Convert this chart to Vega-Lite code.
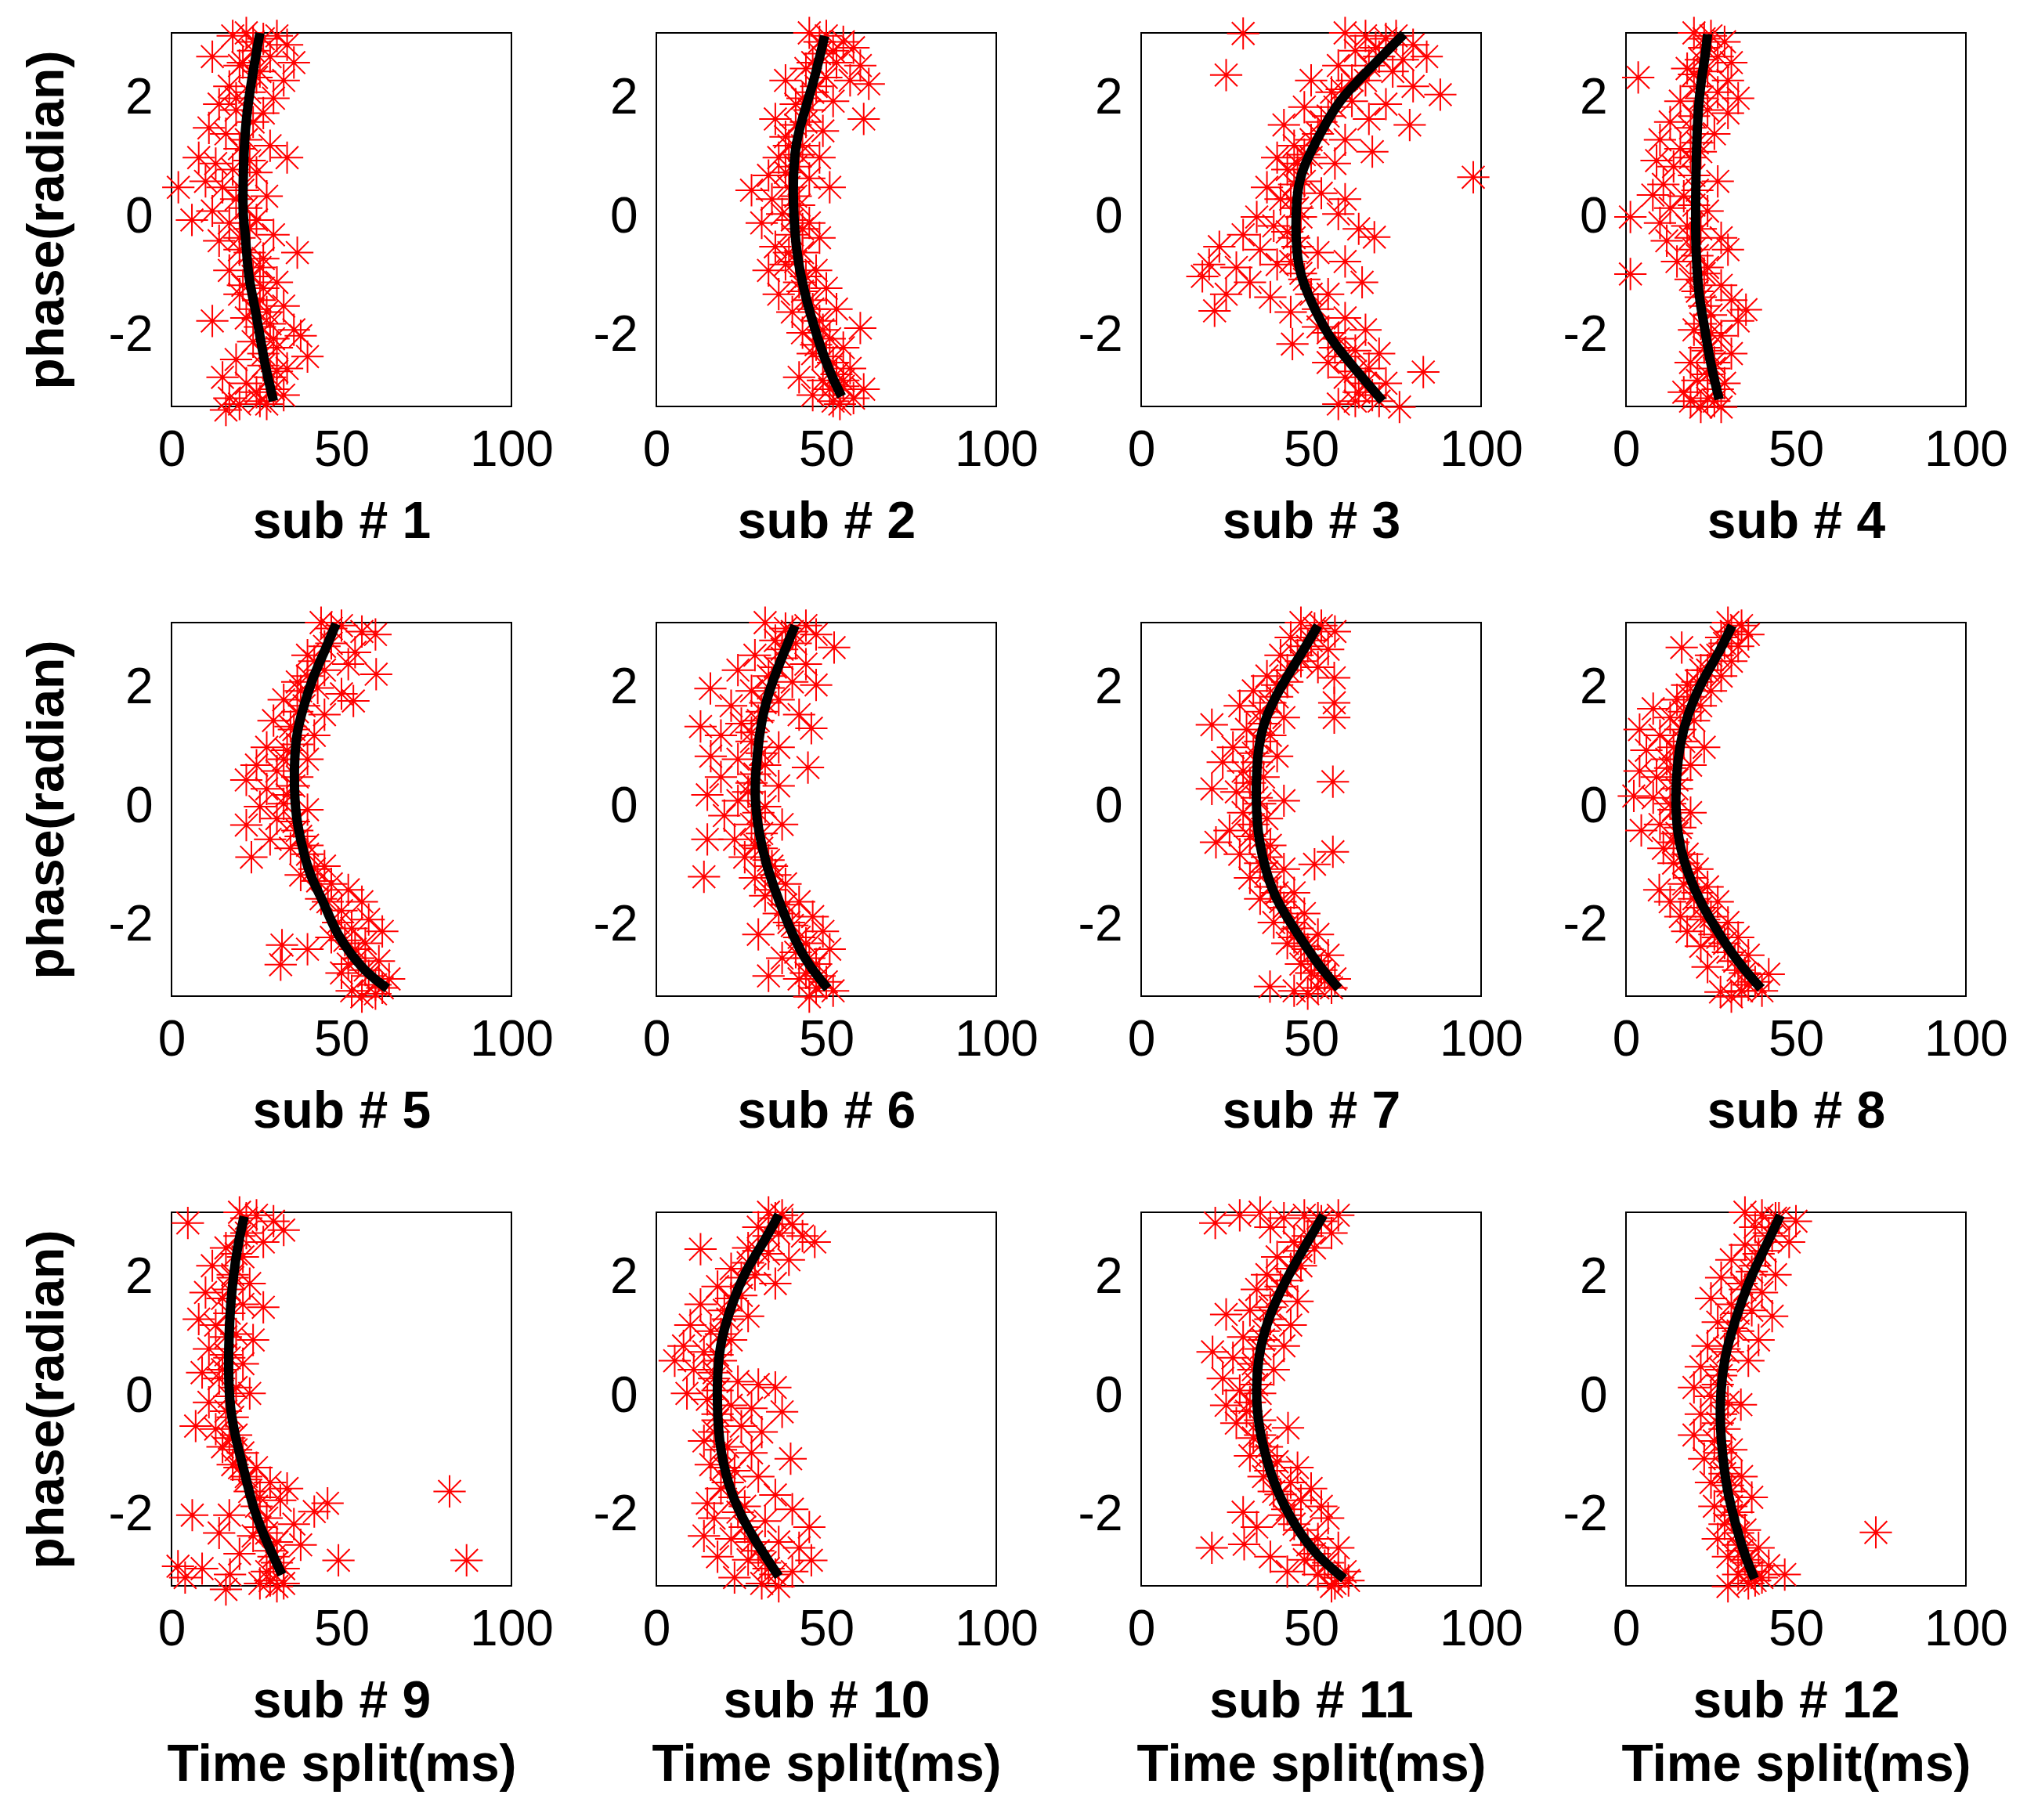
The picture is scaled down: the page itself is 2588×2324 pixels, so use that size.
{
  "$schema": "https://vega.github.io/schema/vega-lite/v6.json",
  "background": "white",
  "padding": {"left": 26, "top": 16, "right": 5, "bottom": 5},
  "bounds": "flush",
  "spacing": 753,
  "config": {
    "font": "Liberation Sans",
    "view": {"stroke": "#000000", "strokeWidth": 2},
    "axis": {
      "grid": false, "domain": false, "ticks": false, "labelFlush": false, "labelExpr": "'' + datum.value",
      "labelFont": "Liberation Sans", "labelFontSize": 64, "labelColor": "#000000", "labelPadding": 24,
      "titleFont": "Liberation Sans", "titleFontSize": 66, "titleFontWeight": "bold", "titleColor": "#000000"
    },
    "axisX": {"titlePadding": 27, "titleLineHeight": 81},
    "axisY": {"titlePadding": 44}
  },
  "datasets": {
    "pts": [
      {"s":1,"t":18,"p":3.05},{"s":1,"t":22,"p":3.1},{"s":1,"t":27,"p":3.0},{"s":1,"t":31,"p":3.05},{"s":1,"t":34,"p":2.9},{"s":1,"t":24,"p":2.8},{"s":1,"t":29,"p":2.7},{"s":1,"t":36,"p":2.6},{"s":1,"t":12,"p":2.7},{"s":1,"t":20,"p":2.55},{"s":1,"t":26,"p":2.45},{"s":1,"t":33,"p":2.3},{"s":1,"t":17,"p":2.2},{"s":1,"t":23,"p":2.1},{"s":1,"t":30,"p":2.0},{"s":1,"t":14,"p":1.9},{"s":1,"t":19,"p":1.8},{"s":1,"t":27,"p":1.75},{"s":1,"t":11,"p":1.5},{"s":1,"t":16,"p":1.4},{"s":1,"t":22,"p":1.3},{"s":1,"t":29,"p":1.2},{"s":1,"t":34,"p":1.0},{"s":1,"t":8,"p":1.0},{"s":1,"t":13,"p":0.9},{"s":1,"t":18,"p":0.8},{"s":1,"t":25,"p":0.75},{"s":1,"t":10,"p":0.6},{"s":1,"t":15,"p":0.5},{"s":1,"t":21,"p":0.45},{"s":1,"t":28,"p":0.35},{"s":1,"t":2,"p":0.5},{"s":1,"t":6,"p":-0.05},{"s":1,"t":12,"p":0.1},{"s":1,"t":17,"p":-0.1},{"s":1,"t":23,"p":-0.2},{"s":1,"t":30,"p":-0.3},{"s":1,"t":14,"p":-0.4},{"s":1,"t":20,"p":-0.55},{"s":1,"t":27,"p":-0.7},{"s":1,"t":37,"p":-0.6},{"s":1,"t":17,"p":-0.9},{"s":1,"t":24,"p":-1.0},{"s":1,"t":31,"p":-1.1},{"s":1,"t":20,"p":-1.3},{"s":1,"t":26,"p":-1.4},{"s":1,"t":33,"p":-1.5},{"s":1,"t":12,"p":-1.75},{"s":1,"t":22,"p":-1.7},{"s":1,"t":29,"p":-1.8},{"s":1,"t":36,"p":-1.9},{"s":1,"t":24,"p":-2.1},{"s":1,"t":31,"p":-2.2},{"s":1,"t":38,"p":-2.0},{"s":1,"t":40,"p":-2.35},{"s":1,"t":19,"p":-2.4},{"s":1,"t":27,"p":-2.5},{"s":1,"t":34,"p":-2.55},{"s":1,"t":15,"p":-2.7},{"s":1,"t":22,"p":-2.8},{"s":1,"t":30,"p":-2.9},{"s":1,"t":17,"p":-3.05},{"s":1,"t":26,"p":-3.1},{"s":1,"t":33,"p":-3.0},{"s":1,"t":16,"p":-3.25},
      {"s":2,"t":45,"p":3.1},{"s":2,"t":50,"p":3.05},{"s":2,"t":55,"p":2.95},{"s":2,"t":58,"p":2.85},{"s":2,"t":48,"p":2.75},{"s":2,"t":53,"p":2.6},{"s":2,"t":60,"p":2.55},{"s":2,"t":44,"p":2.5},{"s":2,"t":50,"p":2.35},{"s":2,"t":38,"p":2.3},{"s":2,"t":57,"p":2.3},{"s":2,"t":62.5,"p":2.24},{"s":2,"t":46,"p":2.1},{"s":2,"t":52,"p":1.95},{"s":2,"t":41,"p":1.9},{"s":2,"t":61,"p":1.65},{"s":2,"t":35,"p":1.65},{"s":2,"t":44,"p":1.6},{"s":2,"t":49,"p":1.45},{"s":2,"t":38,"p":1.35},{"s":2,"t":43,"p":1.2},{"s":2,"t":48,"p":1.0},{"s":2,"t":36,"p":1.0},{"s":2,"t":41,"p":0.85},{"s":2,"t":33,"p":0.7},{"s":2,"t":45,"p":0.65},{"s":2,"t":39,"p":0.5},{"s":2,"t":28,"p":0.45},{"s":2,"t":51,"p":0.5},{"s":2,"t":34,"p":0.3},{"s":2,"t":42,"p":0.2},{"s":2,"t":37,"p":0.05},{"s":2,"t":45,"p":-0.1},{"s":2,"t":31,"p":-0.1},{"s":2,"t":40,"p":-0.3},{"s":2,"t":48,"p":-0.35},{"s":2,"t":35,"p":-0.5},{"s":2,"t":43,"p":-0.6},{"s":2,"t":38,"p":-0.8},{"s":2,"t":47,"p":-0.9},{"s":2,"t":33,"p":-0.9},{"s":2,"t":42,"p":-1.1},{"s":2,"t":50,"p":-1.2},{"s":2,"t":36,"p":-1.3},{"s":2,"t":45,"p":-1.4},{"s":2,"t":53,"p":-1.55},{"s":2,"t":40,"p":-1.6},{"s":2,"t":48,"p":-1.75},{"s":2,"t":60,"p":-1.87},{"s":2,"t":43,"p":-1.95},{"s":2,"t":51,"p":-2.05},{"s":2,"t":55,"p":-2.2},{"s":2,"t":46,"p":-2.3},{"s":2,"t":52,"p":-2.45},{"s":2,"t":57,"p":-2.55},{"s":2,"t":42,"p":-2.7},{"s":2,"t":49,"p":-2.75},{"s":2,"t":55,"p":-2.85},{"s":2,"t":61,"p":-2.9},{"s":2,"t":46,"p":-3.0},{"s":2,"t":52,"p":-3.1},{"s":2,"t":58,"p":-3.05},
      {"s":3,"t":60,"p":3.1},{"s":3,"t":66,"p":3.05},{"s":3,"t":72,"p":3.0},{"s":3,"t":80,"p":2.9},{"s":3,"t":30,"p":3.09},{"s":3,"t":63,"p":2.8},{"s":3,"t":70,"p":2.7},{"s":3,"t":77,"p":2.65},{"s":3,"t":84,"p":2.7},{"s":3,"t":58,"p":2.55},{"s":3,"t":74,"p":2.45},{"s":3,"t":25,"p":2.39},{"s":3,"t":50,"p":2.3},{"s":3,"t":66,"p":2.3},{"s":3,"t":80,"p":2.2},{"s":3,"t":56,"p":2.1},{"s":3,"t":88,"p":2.06},{"s":3,"t":62,"p":1.95},{"s":3,"t":72,"p":1.9},{"s":3,"t":48,"p":1.85},{"s":3,"t":55,"p":1.7},{"s":3,"t":67,"p":1.65},{"s":3,"t":79,"p":1.55},{"s":3,"t":42,"p":1.55},{"s":3,"t":52,"p":1.4},{"s":3,"t":60,"p":1.3},{"s":3,"t":45,"p":1.2},{"s":3,"t":68,"p":1.1},{"s":3,"t":50,"p":1.0},{"s":3,"t":40,"p":1.0},{"s":3,"t":57,"p":0.9},{"s":3,"t":43,"p":0.8},{"s":3,"t":97.7,"p":0.67},{"s":3,"t":48,"p":0.6},{"s":3,"t":37,"p":0.5},{"s":3,"t":53,"p":0.4},{"s":3,"t":41,"p":0.3},{"s":3,"t":60,"p":0.3},{"s":3,"t":46,"p":0.15},{"s":3,"t":34,"p":0.0},{"s":3,"t":58,"p":0.05},{"s":3,"t":39,"p":-0.15},{"s":3,"t":64,"p":-0.2},{"s":3,"t":30,"p":-0.3},{"s":3,"t":45,"p":-0.35},{"s":3,"t":68.6,"p":-0.34},{"s":3,"t":23,"p":-0.5},{"s":3,"t":35,"p":-0.55},{"s":3,"t":52,"p":-0.6},{"s":3,"t":20,"p":-0.8},{"s":3,"t":28,"p":-0.85},{"s":3,"t":40,"p":-0.8},{"s":3,"t":60,"p":-0.75},{"s":3,"t":18,"p":-1.0},{"s":3,"t":32,"p":-1.1},{"s":3,"t":48,"p":-1.05},{"s":3,"t":65,"p":-1.1},{"s":3,"t":25,"p":-1.3},{"s":3,"t":38,"p":-1.35},{"s":3,"t":55,"p":-1.3},{"s":3,"t":21.6,"p":-1.58},{"s":3,"t":44,"p":-1.6},{"s":3,"t":60,"p":-1.7},{"s":3,"t":52,"p":-1.85},{"s":3,"t":66,"p":-1.9},{"s":3,"t":58,"p":-2.05},{"s":3,"t":44.5,"p":-2.14},{"s":3,"t":63,"p":-2.25},{"s":3,"t":70,"p":-2.3},{"s":3,"t":55,"p":-2.45},{"s":3,"t":67,"p":-2.55},{"s":3,"t":83,"p":-2.61},{"s":3,"t":60,"p":-2.7},{"s":3,"t":72,"p":-2.8},{"s":3,"t":64,"p":-2.95},{"s":3,"t":70,"p":-3.1},{"s":3,"t":76,"p":-3.2},{"s":3,"t":58,"p":-3.15},
      {"s":4,"t":20,"p":3.1},{"s":4,"t":25,"p":3.05},{"s":4,"t":29,"p":2.95},{"s":4,"t":23,"p":2.85},{"s":4,"t":27,"p":2.7},{"s":4,"t":31,"p":2.6},{"s":4,"t":18,"p":2.5},{"s":4,"t":24,"p":2.45},{"s":4,"t":30,"p":2.3},{"s":4,"t":3.6,"p":2.35},{"s":4,"t":21,"p":2.2},{"s":4,"t":27,"p":2.1},{"s":4,"t":33,"p":2.0},{"s":4,"t":16,"p":1.95},{"s":4,"t":24,"p":1.8},{"s":4,"t":30,"p":1.75},{"s":4,"t":13,"p":1.6},{"s":4,"t":19,"p":1.5},{"s":4,"t":26,"p":1.4},{"s":4,"t":10,"p":1.3},{"s":4,"t":16,"p":1.15},{"s":4,"t":22,"p":1.1},{"s":4,"t":9,"p":0.95},{"s":4,"t":14,"p":0.85},{"s":4,"t":20,"p":0.7},{"s":4,"t":27,"p":0.6},{"s":4,"t":11,"p":0.55},{"s":4,"t":7.9,"p":0.37},{"s":4,"t":17,"p":0.35},{"s":4,"t":13,"p":0.15},{"s":4,"t":24,"p":0.1},{"s":4,"t":1.3,"p":0.0},{"s":4,"t":10,"p":-0.1},{"s":4,"t":18,"p":-0.15},{"s":4,"t":28,"p":-0.35},{"s":4,"t":12,"p":-0.4},{"s":4,"t":20,"p":-0.55},{"s":4,"t":30,"p":-0.55},{"s":4,"t":15,"p":-0.75},{"s":4,"t":24,"p":-0.85},{"s":4,"t":1.3,"p":-0.96},{"s":4,"t":19,"p":-1.05},{"s":4,"t":28,"p":-1.15},{"s":4,"t":22,"p":-1.35},{"s":4,"t":31,"p":-1.4},{"s":4,"t":35.3,"p":-1.56},{"s":4,"t":25,"p":-1.65},{"s":4,"t":33,"p":-1.75},{"s":4,"t":20,"p":-1.9},{"s":4,"t":28,"p":-2.0},{"s":4,"t":23,"p":-2.2},{"s":4,"t":31,"p":-2.3},{"s":4,"t":19,"p":-2.45},{"s":4,"t":26,"p":-2.55},{"s":4,"t":21,"p":-2.75},{"s":4,"t":29,"p":-2.8},{"s":4,"t":17,"p":-2.95},{"s":4,"t":24,"p":-3.05},{"s":4,"t":22,"p":-3.2},{"s":4,"t":28,"p":-3.2},
      {"s":5,"t":44,"p":3.1},{"s":5,"t":50,"p":3.05},{"s":5,"t":56,"p":2.95},{"s":5,"t":60,"p":2.9},{"s":5,"t":47,"p":2.75},{"s":5,"t":54,"p":2.6},{"s":5,"t":40,"p":2.55},{"s":5,"t":52,"p":2.4},{"s":5,"t":45,"p":2.3},{"s":5,"t":60.2,"p":2.23},{"s":5,"t":37,"p":2.1},{"s":5,"t":43,"p":2.0},{"s":5,"t":50,"p":1.9},{"s":5,"t":53.5,"p":1.78},{"s":5,"t":33,"p":1.8},{"s":5,"t":39,"p":1.7},{"s":5,"t":45,"p":1.55},{"s":5,"t":30,"p":1.45},{"s":5,"t":36,"p":1.3},{"s":5,"t":42,"p":1.2},{"s":5,"t":28,"p":1.0},{"s":5,"t":34,"p":0.95},{"s":5,"t":40,"p":0.8},{"s":5,"t":25,"p":0.7},{"s":5,"t":31,"p":0.6},{"s":5,"t":37,"p":0.5},{"s":5,"t":22,"p":0.45},{"s":5,"t":28,"p":0.3},{"s":5,"t":34,"p":0.2},{"s":5,"t":40,"p":-0.05},{"s":5,"t":26,"p":0.0},{"s":5,"t":31,"p":-0.2},{"s":5,"t":22,"p":-0.31},{"s":5,"t":37,"p":-0.4},{"s":5,"t":29,"p":-0.55},{"s":5,"t":35,"p":-0.7},{"s":5,"t":23.5,"p":-0.85},{"s":5,"t":40,"p":-0.8},{"s":5,"t":45,"p":-1.0},{"s":5,"t":38,"p":-1.15},{"s":5,"t":47,"p":-1.3},{"s":5,"t":52,"p":-1.4},{"s":5,"t":44,"p":-1.55},{"s":5,"t":56,"p":-1.6},{"s":5,"t":50,"p":-1.75},{"s":5,"t":58,"p":-1.9},{"s":5,"t":53,"p":-2.05},{"s":5,"t":62,"p":-2.1},{"s":5,"t":47,"p":-2.2},{"s":5,"t":57,"p":-2.3},{"s":5,"t":32.5,"p":-2.33},{"s":5,"t":40,"p":-2.4},{"s":5,"t":55,"p":-2.55},{"s":5,"t":61,"p":-2.6},{"s":5,"t":32.1,"p":-2.66},{"s":5,"t":50,"p":-2.8},{"s":5,"t":58,"p":-2.85},{"s":5,"t":64,"p":-2.9},{"s":5,"t":53,"p":-3.1},{"s":5,"t":60,"p":-3.15},
      {"s":6,"t":32,"p":3.1},{"s":6,"t":38,"p":3.0},{"s":6,"t":44,"p":3.05},{"s":6,"t":47,"p":2.9},{"s":6,"t":35,"p":2.8},{"s":6,"t":41,"p":2.75},{"s":6,"t":52.3,"p":2.68},{"s":6,"t":29,"p":2.55},{"s":6,"t":37,"p":2.5},{"s":6,"t":44,"p":2.4},{"s":6,"t":24,"p":2.3},{"s":6,"t":33,"p":2.2},{"s":6,"t":40,"p":2.1},{"s":6,"t":47,"p":2.05},{"s":6,"t":15.9,"p":1.99},{"s":6,"t":28,"p":1.95},{"s":6,"t":36,"p":1.8},{"s":6,"t":22,"p":1.7},{"s":6,"t":31,"p":1.6},{"s":6,"t":42,"p":1.55},{"s":6,"t":13,"p":1.35},{"s":6,"t":25,"p":1.4},{"s":6,"t":45.6,"p":1.32},{"s":6,"t":19,"p":1.2},{"s":6,"t":28,"p":1.1},{"s":6,"t":36,"p":1.0},{"s":6,"t":16,"p":0.85},{"s":6,"t":24,"p":0.8},{"s":6,"t":32,"p":0.7},{"s":6,"t":44.6,"p":0.66},{"s":6,"t":19,"p":0.5},{"s":6,"t":28,"p":0.4},{"s":6,"t":36,"p":0.35},{"s":6,"t":15,"p":0.2},{"s":6,"t":24,"p":0.1},{"s":6,"t":32,"p":0.0},{"s":6,"t":20,"p":-0.15},{"s":6,"t":28,"p":-0.3},{"s":6,"t":37,"p":-0.3},{"s":6,"t":23,"p":-0.55},{"s":6,"t":15,"p":-0.55},{"s":6,"t":31,"p":-0.7},{"s":6,"t":26,"p":-0.85},{"s":6,"t":34,"p":-1.0},{"s":6,"t":14,"p":-1.18},{"s":6,"t":29,"p":-1.2},{"s":6,"t":38,"p":-1.3},{"s":6,"t":32,"p":-1.5},{"s":6,"t":42,"p":-1.6},{"s":6,"t":36,"p":-1.8},{"s":6,"t":46,"p":-1.85},{"s":6,"t":40,"p":-2.0},{"s":6,"t":49,"p":-2.1},{"s":6,"t":30,"p":-2.15},{"s":6,"t":44,"p":-2.3},{"s":6,"t":51,"p":-2.4},{"s":6,"t":37,"p":-2.55},{"s":6,"t":47,"p":-2.65},{"s":6,"t":33,"p":-2.85},{"s":6,"t":42,"p":-2.9},{"s":6,"t":50,"p":-2.95},{"s":6,"t":45,"p":-3.2},
      {"s":7,"t":47,"p":3.1},{"s":7,"t":53,"p":3.05},{"s":7,"t":57,"p":2.95},{"s":7,"t":44,"p":2.85},{"s":7,"t":50,"p":2.8},{"s":7,"t":55,"p":2.65},{"s":7,"t":41,"p":2.55},{"s":7,"t":47,"p":2.45},{"s":7,"t":52,"p":2.35},{"s":7,"t":56.8,"p":2.17},{"s":7,"t":37,"p":2.2},{"s":7,"t":43,"p":2.1},{"s":7,"t":33,"p":1.95},{"s":7,"t":40,"p":1.85},{"s":7,"t":56.8,"p":1.75},{"s":7,"t":29,"p":1.7},{"s":7,"t":35,"p":1.6},{"s":7,"t":42,"p":1.5},{"s":7,"t":56.8,"p":1.5},{"s":7,"t":20.8,"p":1.38},{"s":7,"t":31,"p":1.3},{"s":7,"t":38,"p":1.2},{"s":7,"t":27,"p":1.0},{"s":7,"t":33,"p":0.9},{"s":7,"t":40,"p":0.85},{"s":7,"t":24,"p":0.75},{"s":7,"t":30,"p":0.6},{"s":7,"t":36,"p":0.5},{"s":7,"t":56.4,"p":0.42},{"s":7,"t":20.8,"p":0.3},{"s":7,"t":28,"p":0.25},{"s":7,"t":34,"p":0.15},{"s":7,"t":42,"p":0.1},{"s":7,"t":30,"p":-0.1},{"s":7,"t":37,"p":-0.2},{"s":7,"t":26,"p":-0.4},{"s":7,"t":32,"p":-0.5},{"s":7,"t":22,"p":-0.6},{"s":7,"t":38,"p":-0.65},{"s":7,"t":56.4,"p":-0.76},{"s":7,"t":29,"p":-0.8},{"s":7,"t":35,"p":-0.95},{"s":7,"t":51,"p":-0.97},{"s":7,"t":42,"p":-1.05},{"s":7,"t":32,"p":-1.2},{"s":7,"t":38,"p":-1.35},{"s":7,"t":45,"p":-1.45},{"s":7,"t":35,"p":-1.55},{"s":7,"t":42,"p":-1.7},{"s":7,"t":48,"p":-1.8},{"s":7,"t":39,"p":-1.95},{"s":7,"t":46,"p":-2.05},{"s":7,"t":52,"p":-2.15},{"s":7,"t":43,"p":-2.3},{"s":7,"t":49,"p":-2.4},{"s":7,"t":55,"p":-2.5},{"s":7,"t":47,"p":-2.65},{"s":7,"t":53,"p":-2.75},{"s":7,"t":57,"p":-2.9},{"s":7,"t":37.9,"p":-3.03},{"s":7,"t":45,"p":-3.1},{"s":7,"t":52,"p":-3.05},
      {"s":8,"t":30,"p":3.1},{"s":8,"t":34,"p":3.05},{"s":8,"t":36,"p":2.9},{"s":8,"t":28,"p":2.85},{"s":8,"t":33,"p":2.7},{"s":8,"t":16.4,"p":2.68},{"s":8,"t":25,"p":2.55},{"s":8,"t":31,"p":2.45},{"s":8,"t":22,"p":2.3},{"s":8,"t":28,"p":2.2},{"s":8,"t":18,"p":2.05},{"s":8,"t":25,"p":1.95},{"s":8,"t":15,"p":1.8},{"s":8,"t":22,"p":1.7},{"s":8,"t":8,"p":1.65},{"s":8,"t":13,"p":1.5},{"s":8,"t":20,"p":1.45},{"s":8,"t":4,"p":1.3},{"s":8,"t":10,"p":1.2},{"s":8,"t":17,"p":1.1},{"s":8,"t":23,"p":1.0},{"s":8,"t":6,"p":0.95},{"s":8,"t":12,"p":0.8},{"s":8,"t":19,"p":0.7},{"s":8,"t":4,"p":0.6},{"s":8,"t":9,"p":0.5},{"s":8,"t":15,"p":0.45},{"s":8,"t":2.3,"p":0.18},{"s":8,"t":8,"p":0.15},{"s":8,"t":13,"p":0.05},{"s":8,"t":19,"p":-0.1},{"s":8,"t":4.5,"p":-0.4},{"s":8,"t":10,"p":-0.3},{"s":8,"t":15,"p":-0.45},{"s":8,"t":11,"p":-0.7},{"s":8,"t":18,"p":-0.8},{"s":8,"t":14,"p":-0.95},{"s":8,"t":21,"p":-1.05},{"s":8,"t":9.8,"p":-1.4},{"s":8,"t":17,"p":-1.3},{"s":8,"t":24,"p":-1.35},{"s":8,"t":13,"p":-1.6},{"s":8,"t":20,"p":-1.55},{"s":8,"t":27,"p":-1.6},{"s":8,"t":16,"p":-1.85},{"s":8,"t":23,"p":-1.9},{"s":8,"t":30,"p":-1.95},{"s":8,"t":18,"p":-2.1},{"s":8,"t":26,"p":-2.15},{"s":8,"t":33,"p":-2.2},{"s":8,"t":22,"p":-2.35},{"s":8,"t":30,"p":-2.45},{"s":8,"t":36,"p":-2.5},{"s":8,"t":24,"p":-2.7},{"s":8,"t":33,"p":-2.75},{"s":8,"t":42,"p":-2.82},{"s":8,"t":27.8,"p":-3.12},{"s":8,"t":36,"p":-3.0},{"s":8,"t":40,"p":-3.1},{"s":8,"t":31,"p":-3.2},
      {"s":9,"t":4.8,"p":2.92},{"s":9,"t":20,"p":3.1},{"s":9,"t":25,"p":3.05},{"s":9,"t":30,"p":2.95},{"s":9,"t":33,"p":2.8},{"s":9,"t":22,"p":2.75},{"s":9,"t":27,"p":2.6},{"s":9,"t":16,"p":2.5},{"s":9,"t":21,"p":2.35},{"s":9,"t":12,"p":2.2},{"s":9,"t":18,"p":2.05},{"s":9,"t":23,"p":1.9},{"s":9,"t":10,"p":1.75},{"s":9,"t":15,"p":1.65},{"s":9,"t":21,"p":1.55},{"s":9,"t":27,"p":1.5},{"s":9,"t":8,"p":1.3},{"s":9,"t":13,"p":1.2},{"s":9,"t":19,"p":1.05},{"s":9,"t":24,"p":0.95},{"s":9,"t":11,"p":0.8},{"s":9,"t":16,"p":0.7},{"s":9,"t":21,"p":0.55},{"s":9,"t":9,"p":0.4},{"s":9,"t":14,"p":0.3},{"s":9,"t":19,"p":0.15},{"s":9,"t":23,"p":0.05},{"s":9,"t":11,"p":-0.1},{"s":9,"t":16,"p":-0.25},{"s":9,"t":7.1,"p":-0.5},{"s":9,"t":13,"p":-0.55},{"s":9,"t":19,"p":-0.65},{"s":9,"t":15,"p":-0.85},{"s":9,"t":21,"p":-0.95},{"s":9,"t":18,"p":-1.15},{"s":9,"t":25,"p":-1.2},{"s":9,"t":22,"p":-1.4},{"s":9,"t":29,"p":-1.45},{"s":9,"t":34,"p":-1.55},{"s":9,"t":26,"p":-1.7},{"s":9,"t":32,"p":-1.75},{"s":9,"t":45.9,"p":-1.8},{"s":9,"t":42,"p":-1.94},{"s":9,"t":81.8,"p":-1.6},{"s":9,"t":6.1,"p":-2.0},{"s":9,"t":17,"p":-2.0},{"s":9,"t":28,"p":-2.05},{"s":9,"t":36,"p":-2.15},{"s":9,"t":14,"p":-2.3},{"s":9,"t":24,"p":-2.35},{"s":9,"t":31,"p":-2.45},{"s":9,"t":38,"p":-2.5},{"s":9,"t":20,"p":-2.65},{"s":9,"t":30,"p":-2.7},{"s":9,"t":49.1,"p":-2.76},{"s":9,"t":86.8,"p":-2.76},{"s":9,"t":1.9,"p":-2.86},{"s":9,"t":9,"p":-2.9},{"s":9,"t":28,"p":-2.95},{"s":9,"t":17.2,"p":-3.0},{"s":9,"t":4,"p":-3.05},{"s":9,"t":26,"p":-3.15},{"s":9,"t":31,"p":-3.2},{"s":9,"t":16,"p":-3.25},
      {"s":10,"t":33,"p":3.1},{"s":10,"t":37,"p":3.05},{"s":10,"t":40,"p":2.9},{"s":10,"t":30,"p":2.85},{"s":10,"t":36,"p":2.75},{"s":10,"t":43,"p":2.7},{"s":10,"t":46.6,"p":2.6},{"s":10,"t":13,"p":2.48},{"s":10,"t":27,"p":2.5},{"s":10,"t":33,"p":2.4},{"s":10,"t":39,"p":2.3},{"s":10,"t":22,"p":2.15},{"s":10,"t":29,"p":2.05},{"s":10,"t":35,"p":1.9},{"s":10,"t":18,"p":1.85},{"s":10,"t":25,"p":1.7},{"s":10,"t":13,"p":1.55},{"s":10,"t":20,"p":1.45},{"s":10,"t":27,"p":1.35},{"s":10,"t":10,"p":1.2},{"s":10,"t":16,"p":1.1},{"s":10,"t":22,"p":0.95},{"s":10,"t":8,"p":0.85},{"s":10,"t":14,"p":0.75},{"s":10,"t":19,"p":0.6},{"s":10,"t":5.4,"p":0.6},{"s":10,"t":11,"p":0.45},{"s":10,"t":17,"p":0.3},{"s":10,"t":24,"p":0.25},{"s":10,"t":30,"p":0.2},{"s":10,"t":35,"p":0.15},{"s":10,"t":9,"p":0.05},{"s":10,"t":15,"p":-0.05},{"s":10,"t":22,"p":-0.15},{"s":10,"t":28,"p":-0.2},{"s":10,"t":37,"p":-0.26},{"s":10,"t":18,"p":-0.4},{"s":10,"t":25,"p":-0.5},{"s":10,"t":31,"p":-0.6},{"s":10,"t":14,"p":-0.75},{"s":10,"t":21,"p":-0.85},{"s":10,"t":28,"p":-0.95},{"s":10,"t":39.5,"p":-1.05},{"s":10,"t":16,"p":-1.15},{"s":10,"t":23,"p":-1.25},{"s":10,"t":30,"p":-1.35},{"s":10,"t":19,"p":-1.55},{"s":10,"t":35,"p":-1.66},{"s":10,"t":15,"p":-1.8},{"s":10,"t":26,"p":-1.85},{"s":10,"t":40,"p":-1.9},{"s":10,"t":17,"p":-2.05},{"s":10,"t":32,"p":-2.1},{"s":10,"t":45,"p":-2.2},{"s":10,"t":14,"p":-2.35},{"s":10,"t":22,"p":-2.4},{"s":10,"t":36,"p":-2.45},{"s":10,"t":42,"p":-2.55},{"s":10,"t":18,"p":-2.7},{"s":10,"t":27,"p":-2.75},{"s":10,"t":45.6,"p":-2.76},{"s":10,"t":33,"p":-2.9},{"s":10,"t":40,"p":-2.95},{"s":10,"t":23,"p":-3.05},{"s":10,"t":36,"p":-3.2},
      {"s":11,"t":21.8,"p":2.92},{"s":11,"t":29,"p":3.05},{"s":11,"t":35,"p":3.1},{"s":11,"t":42,"p":3.0},{"s":11,"t":48,"p":3.05},{"s":11,"t":53,"p":2.95},{"s":11,"t":58,"p":3.05},{"s":11,"t":38,"p":2.85},{"s":11,"t":56,"p":2.75},{"s":11,"t":45,"p":2.6},{"s":11,"t":51,"p":2.5},{"s":11,"t":40,"p":2.35},{"s":11,"t":47,"p":2.2},{"s":11,"t":37,"p":2.05},{"s":11,"t":43,"p":1.95},{"s":11,"t":34,"p":1.8},{"s":11,"t":40,"p":1.7},{"s":11,"t":46,"p":1.6},{"s":11,"t":25,"p":1.38},{"s":11,"t":32,"p":1.45},{"s":11,"t":38,"p":1.3},{"s":11,"t":44,"p":1.2},{"s":11,"t":30,"p":1.0},{"s":11,"t":36,"p":0.95},{"s":11,"t":42,"p":0.85},{"s":11,"t":21,"p":0.75},{"s":11,"t":27,"p":0.65},{"s":11,"t":33,"p":0.55},{"s":11,"t":39,"p":0.45},{"s":11,"t":24,"p":0.3},{"s":11,"t":29,"p":0.1},{"s":11,"t":35,"p":0.05},{"s":11,"t":25,"p":-0.15},{"s":11,"t":31,"p":-0.25},{"s":11,"t":28,"p":-0.45},{"s":11,"t":43.2,"p":-0.53},{"s":11,"t":33,"p":-0.7},{"s":11,"t":37,"p":-0.85},{"s":11,"t":32,"p":-1.0},{"s":11,"t":40,"p":-1.1},{"s":11,"t":46,"p":-1.2},{"s":11,"t":36,"p":-1.35},{"s":11,"t":44,"p":-1.45},{"s":11,"t":50,"p":-1.55},{"s":11,"t":39,"p":-1.6},{"s":11,"t":47,"p":-1.75},{"s":11,"t":53,"p":-1.85},{"s":11,"t":30,"p":-1.95},{"s":11,"t":42,"p":-2.0},{"s":11,"t":55,"p":-2.05},{"s":11,"t":34,"p":-2.2},{"s":11,"t":47,"p":-2.25},{"s":11,"t":52,"p":-2.4},{"s":11,"t":30.3,"p":-2.49},{"s":11,"t":20.8,"p":-2.55},{"s":11,"t":58,"p":-2.55},{"s":11,"t":38,"p":-2.7},{"s":11,"t":48,"p":-2.75},{"s":11,"t":55,"p":-2.8},{"s":11,"t":43,"p":-2.95},{"s":11,"t":52,"p":-3.0},{"s":11,"t":60,"p":-2.95},{"s":11,"t":57,"p":-3.15},
      {"s":12,"t":35,"p":3.1},{"s":12,"t":40,"p":3.05},{"s":12,"t":45,"p":3.0},{"s":12,"t":50,"p":2.95},{"s":12,"t":38,"p":2.85},{"s":12,"t":43,"p":2.7},{"s":12,"t":48,"p":2.6},{"s":12,"t":35,"p":2.55},{"s":12,"t":41,"p":2.45},{"s":12,"t":31,"p":2.3},{"s":12,"t":38,"p":2.2},{"s":12,"t":44,"p":2.05},{"s":12,"t":28,"p":2.0},{"s":12,"t":34,"p":1.9},{"s":12,"t":40,"p":1.75},{"s":12,"t":25,"p":1.65},{"s":12,"t":31,"p":1.55},{"s":12,"t":37,"p":1.45},{"s":12,"t":43,"p":1.35},{"s":12,"t":27,"p":1.25},{"s":12,"t":33,"p":1.1},{"s":12,"t":39,"p":0.95},{"s":12,"t":24,"p":0.85},{"s":12,"t":30,"p":0.75},{"s":12,"t":36,"p":0.6},{"s":12,"t":22,"p":0.5},{"s":12,"t":28,"p":0.35},{"s":12,"t":33.8,"p":-0.14},{"s":12,"t":20,"p":0.15},{"s":12,"t":25,"p":0.0},{"s":12,"t":30,"p":-0.1},{"s":12,"t":22,"p":-0.3},{"s":12,"t":27,"p":-0.45},{"s":12,"t":20,"p":-0.65},{"s":12,"t":26,"p":-0.75},{"s":12,"t":31,"p":-0.9},{"s":12,"t":23,"p":-1.05},{"s":12,"t":29,"p":-1.2},{"s":12,"t":34,"p":-1.35},{"s":12,"t":25,"p":-1.45},{"s":12,"t":31,"p":-1.6},{"s":12,"t":37,"p":-1.7},{"s":12,"t":26,"p":-1.85},{"s":12,"t":33,"p":-1.95},{"s":12,"t":29,"p":-2.15},{"s":12,"t":35,"p":-2.25},{"s":12,"t":73.5,"p":-2.29},{"s":12,"t":27,"p":-2.4},{"s":12,"t":33,"p":-2.5},{"s":12,"t":39,"p":-2.55},{"s":12,"t":30,"p":-2.7},{"s":12,"t":36,"p":-2.8},{"s":12,"t":42,"p":-2.85},{"s":12,"t":33,"p":-3.0},{"s":12,"t":46.7,"p":-3.0},{"s":12,"t":38,"p":-3.1},{"s":12,"t":30,"p":-3.2},
      {"s":1,"t":24,"p":2.95},{"s":1,"t":21,"p":2.6},{"s":1,"t":25,"p":2.35},{"s":1,"t":19,"p":2.0},{"s":1,"t":24,"p":1.6},{"s":1,"t":20,"p":1.15},{"s":1,"t":23,"p":0.95},{"s":1,"t":19,"p":0.3},{"s":1,"t":22,"p":0.15},{"s":1,"t":25,"p":-0.05},{"s":1,"t":20,"p":-0.35},{"s":1,"t":23,"p":-0.6},{"s":1,"t":26,"p":-0.85},{"s":1,"t":21,"p":-1.15},{"s":1,"t":27,"p":-1.2},{"s":1,"t":24,"p":-1.55},{"s":1,"t":28,"p":-1.6},{"s":1,"t":26,"p":-1.85},{"s":1,"t":30,"p":-2.05},{"s":1,"t":27,"p":-2.3},{"s":1,"t":29,"p":-2.7},{"s":1,"t":25,"p":-2.95},{"s":1,"t":31,"p":-2.6},{"s":1,"t":28,"p":-3.15},{"s":1,"t":20,"p":-3.15},
      {"s":2,"t":48,"p":2.95},{"s":2,"t":52,"p":2.8},{"s":2,"t":46,"p":2.6},{"s":2,"t":47,"p":2.2},{"s":2,"t":43,"p":2.0},{"s":2,"t":45,"p":1.8},{"s":2,"t":41,"p":1.55},{"s":2,"t":39,"p":1.2},{"s":2,"t":42,"p":1.05},{"s":2,"t":38,"p":0.75},{"s":2,"t":41,"p":0.35},{"s":2,"t":40,"p":-0.05},{"s":2,"t":43,"p":-0.2},{"s":2,"t":39,"p":-0.6},{"s":2,"t":41,"p":-0.75},{"s":2,"t":44,"p":-1.0},{"s":2,"t":43,"p":-1.25},{"s":2,"t":46,"p":-1.55},{"s":2,"t":49,"p":-1.9},{"s":2,"t":47,"p":-2.15},{"s":2,"t":50,"p":-2.35},{"s":2,"t":53,"p":-2.65},{"s":2,"t":51,"p":-2.9},{"s":2,"t":55,"p":-2.75},{"s":2,"t":54,"p":-3.15},
      {"s":3,"t":75,"p":3.05},{"s":3,"t":69,"p":2.85},{"s":3,"t":67,"p":2.55},{"s":3,"t":62,"p":2.3},{"s":3,"t":59,"p":2.15},{"s":3,"t":57,"p":1.85},{"s":3,"t":53,"p":1.6},{"s":3,"t":50,"p":1.3},{"s":3,"t":48,"p":1.05},{"s":3,"t":46,"p":0.9},{"s":3,"t":45,"p":0.55},{"s":3,"t":44,"p":0.3},{"s":3,"t":47,"p":0.0},{"s":3,"t":43,"p":-0.25},{"s":3,"t":46,"p":-0.5},{"s":3,"t":44,"p":-0.75},{"s":3,"t":47,"p":-0.95},{"s":3,"t":50,"p":-1.3},{"s":3,"t":52,"p":-1.55},{"s":3,"t":55,"p":-1.95},{"s":3,"t":57,"p":-2.2},{"s":3,"t":60,"p":-2.35},{"s":3,"t":63,"p":-2.6},{"s":3,"t":66,"p":-2.8},{"s":3,"t":68,"p":-3.0},{"s":3,"t":63,"p":-3.1},
      {"s":4,"t":23,"p":3.0},{"s":4,"t":22,"p":2.65},{"s":4,"t":20,"p":2.4},{"s":4,"t":22,"p":2.0},{"s":4,"t":20,"p":1.7},{"s":4,"t":21,"p":1.25},{"s":4,"t":19,"p":1.0},{"s":4,"t":21,"p":0.45},{"s":4,"t":20,"p":0.2},{"s":4,"t":22,"p":-0.2},{"s":4,"t":19,"p":-0.35},{"s":4,"t":21,"p":-0.65},{"s":4,"t":23,"p":-0.95},{"s":4,"t":21,"p":-1.25},{"s":4,"t":23,"p":-1.5},{"s":4,"t":22,"p":-1.8},{"s":4,"t":25,"p":-1.95},{"s":4,"t":24,"p":-2.25},{"s":4,"t":26,"p":-2.45},{"s":4,"t":24,"p":-2.65},{"s":4,"t":27,"p":-2.9},{"s":4,"t":26,"p":-3.1},{"s":4,"t":19,"p":-3.1},
      {"s":5,"t":47,"p":3.0},{"s":5,"t":45,"p":2.7},{"s":5,"t":42,"p":2.45},{"s":5,"t":40,"p":2.2},{"s":5,"t":38,"p":1.95},{"s":5,"t":37,"p":1.6},{"s":5,"t":35,"p":1.35},{"s":5,"t":37,"p":1.05},{"s":5,"t":33,"p":0.8},{"s":5,"t":36,"p":0.35},{"s":5,"t":33,"p":0.05},{"s":5,"t":36,"p":-0.25},{"s":5,"t":38,"p":-0.5},{"s":5,"t":40,"p":-0.65},{"s":5,"t":42,"p":-1.05},{"s":5,"t":43,"p":-1.25},{"s":5,"t":46,"p":-1.6},{"s":5,"t":49,"p":-1.95},{"s":5,"t":51,"p":-2.25},{"s":5,"t":54,"p":-2.4},{"s":5,"t":52,"p":-2.65},{"s":5,"t":57,"p":-2.75},{"s":5,"t":60,"p":-3.0},{"s":5,"t":56,"p":-3.2},{"s":5,"t":62,"p":-3.05},
      {"s":6,"t":40,"p":2.95},{"s":6,"t":37,"p":2.65},{"s":6,"t":35,"p":2.35},{"s":6,"t":33,"p":2.0},{"s":6,"t":32,"p":1.75},{"s":6,"t":30,"p":1.45},{"s":6,"t":28,"p":1.25},{"s":6,"t":31,"p":0.9},{"s":6,"t":29,"p":0.55},{"s":6,"t":27,"p":0.25},{"s":6,"t":30,"p":-0.1},{"s":6,"t":31,"p":-0.45},{"s":6,"t":29,"p":-0.65},{"s":6,"t":33,"p":-0.9},{"s":6,"t":35,"p":-1.15},{"s":6,"t":34,"p":-1.4},{"s":6,"t":38,"p":-1.65},{"s":6,"t":39,"p":-1.95},{"s":6,"t":42,"p":-2.2},{"s":6,"t":41,"p":-2.45},{"s":6,"t":45,"p":-2.55},{"s":6,"t":44,"p":-2.8},{"s":6,"t":48,"p":-2.85},{"s":6,"t":47,"p":-3.05},{"s":6,"t":52,"p":-3.1},
      {"s":7,"t":51,"p":3.0},{"s":7,"t":49,"p":2.7},{"s":7,"t":46,"p":2.55},{"s":7,"t":43,"p":2.3},{"s":7,"t":40,"p":2.05},{"s":7,"t":38,"p":1.75},{"s":7,"t":36,"p":1.4},{"s":7,"t":35,"p":1.1},{"s":7,"t":34,"p":0.75},{"s":7,"t":32,"p":0.4},{"s":7,"t":35,"p":0.05},{"s":7,"t":33,"p":-0.3},{"s":7,"t":35,"p":-0.55},{"s":7,"t":37,"p":-0.85},{"s":7,"t":37,"p":-1.1},{"s":7,"t":40,"p":-1.45},{"s":7,"t":41,"p":-1.6},{"s":7,"t":44,"p":-1.95},{"s":7,"t":45,"p":-2.2},{"s":7,"t":48,"p":-2.35},{"s":7,"t":51,"p":-2.6},{"s":7,"t":50,"p":-2.8},{"s":7,"t":54,"p":-2.85},{"s":7,"t":56,"p":-3.05},{"s":7,"t":49,"p":-3.15},
      {"s":8,"t":31,"p":2.95},{"s":8,"t":29,"p":2.75},{"s":8,"t":27,"p":2.55},{"s":8,"t":24,"p":2.3},{"s":8,"t":21,"p":2.1},{"s":8,"t":19,"p":1.85},{"s":8,"t":17,"p":1.6},{"s":8,"t":16,"p":1.3},{"s":8,"t":14,"p":1.0},{"s":8,"t":13,"p":0.65},{"s":8,"t":15,"p":0.3},{"s":8,"t":14,"p":-0.05},{"s":8,"t":16,"p":-0.35},{"s":8,"t":14,"p":-0.6},{"s":8,"t":17,"p":-0.95},{"s":8,"t":19,"p":-1.2},{"s":8,"t":21,"p":-1.45},{"s":8,"t":22,"p":-1.7},{"s":8,"t":25,"p":-1.85},{"s":8,"t":27,"p":-2.2},{"s":8,"t":29,"p":-2.3},{"s":8,"t":32,"p":-2.6},{"s":8,"t":35,"p":-2.8},{"s":8,"t":38,"p":-2.95},{"s":8,"t":34,"p":-3.1},
      {"s":9,"t":22,"p":3.0},{"s":9,"t":20,"p":2.7},{"s":9,"t":19,"p":2.4},{"s":9,"t":18,"p":2.0},{"s":9,"t":17,"p":1.8},{"s":9,"t":17,"p":1.4},{"s":9,"t":16,"p":1.0},{"s":9,"t":17,"p":0.65},{"s":9,"t":15,"p":0.45},{"s":9,"t":17,"p":0.0},{"s":9,"t":18,"p":-0.35},{"s":9,"t":17,"p":-0.7},{"s":9,"t":19,"p":-0.9},{"s":9,"t":20,"p":-1.2},{"s":9,"t":22,"p":-1.35},{"s":9,"t":23,"p":-1.6},{"s":9,"t":25,"p":-1.85},{"s":9,"t":26,"p":-2.2},{"s":9,"t":28,"p":-2.3},{"s":9,"t":29,"p":-2.6},{"s":9,"t":31,"p":-2.8},{"s":9,"t":33,"p":-2.9},{"s":9,"t":29,"p":-3.1},{"s":9,"t":33,"p":-3.15},
      {"s":10,"t":35,"p":3.0},{"s":10,"t":33,"p":2.7},{"s":10,"t":30,"p":2.45},{"s":10,"t":27,"p":2.25},{"s":10,"t":25,"p":2.0},{"s":10,"t":22,"p":1.65},{"s":10,"t":21,"p":1.3},{"s":10,"t":19,"p":1.05},{"s":10,"t":18,"p":0.7},{"s":10,"t":17,"p":0.4},{"s":10,"t":18,"p":0.1},{"s":10,"t":18,"p":-0.3},{"s":10,"t":17,"p":-0.6},{"s":10,"t":19,"p":-0.9},{"s":10,"t":20,"p":-1.2},{"s":10,"t":21,"p":-1.45},{"s":10,"t":23,"p":-1.7},{"s":10,"t":24,"p":-1.95},{"s":10,"t":26,"p":-2.2},{"s":10,"t":28,"p":-2.45},{"s":10,"t":30,"p":-2.6},{"s":10,"t":32,"p":-2.8},{"s":10,"t":35,"p":-3.0},{"s":10,"t":31,"p":-3.15},
      {"s":11,"t":52,"p":3.0},{"s":11,"t":49,"p":2.7},{"s":11,"t":47,"p":2.45},{"s":11,"t":44,"p":2.15},{"s":11,"t":41,"p":1.85},{"s":11,"t":38,"p":1.5},{"s":11,"t":36,"p":1.1},{"s":11,"t":35,"p":0.8},{"s":11,"t":33,"p":0.45},{"s":11,"t":34,"p":0.2},{"s":11,"t":32,"p":-0.1},{"s":11,"t":35,"p":-0.4},{"s":11,"t":35,"p":-0.65},{"s":11,"t":37,"p":-1.0},{"s":11,"t":38,"p":-1.25},{"s":11,"t":41,"p":-1.65},{"s":11,"t":43,"p":-1.9},{"s":11,"t":45,"p":-2.15},{"s":11,"t":49,"p":-2.5},{"s":11,"t":51,"p":-2.65},{"s":11,"t":54,"p":-2.85},{"s":11,"t":58,"p":-3.05},{"s":11,"t":56,"p":-3.2},{"s":11,"t":61,"p":-3.1},
      {"s":12,"t":44,"p":3.0},{"s":12,"t":42,"p":2.75},{"s":12,"t":39,"p":2.4},{"s":12,"t":37,"p":2.1},{"s":12,"t":35,"p":1.8},{"s":12,"t":33,"p":1.4},{"s":12,"t":31,"p":1.15},{"s":12,"t":29,"p":0.8},{"s":12,"t":28,"p":0.45},{"s":12,"t":27,"p":0.2},{"s":12,"t":28,"p":-0.3},{"s":12,"t":29,"p":-0.55},{"s":12,"t":28,"p":-0.95},{"s":12,"t":29,"p":-1.3},{"s":12,"t":30,"p":-1.5},{"s":12,"t":31,"p":-1.85},{"s":12,"t":31,"p":-2.0},{"s":12,"t":33,"p":-2.3},{"s":12,"t":34,"p":-2.6},{"s":12,"t":35,"p":-2.75},{"s":12,"t":37,"p":-2.95},{"s":12,"t":36,"p":-3.15},{"s":12,"t":40,"p":-3.05}
    ],
    "crv": [
      {"s":1,"t":26,"p":3.1},{"s":1,"t":23.5,"p":2.3},{"s":1,"t":21.5,"p":1.5},{"s":1,"t":21,"p":0.5},{"s":1,"t":21,"p":0},{"s":1,"t":21.8,"p":-0.3},{"s":1,"t":22.5,"p":-1},{"s":1,"t":24.5,"p":-1.5},{"s":1,"t":26,"p":-2},{"s":1,"t":27.5,"p":-2.5},{"s":1,"t":30,"p":-3.1},
      {"s":2,"t":49.5,"p":3.05},{"s":2,"t":46.5,"p":2.3},{"s":2,"t":42,"p":1.5},{"s":2,"t":40.3,"p":1.0},{"s":2,"t":40.2,"p":0},{"s":2,"t":41.8,"p":-0.85},{"s":2,"t":44.6,"p":-1.5},{"s":2,"t":48,"p":-2.15},{"s":2,"t":51.3,"p":-2.65},{"s":2,"t":54.5,"p":-3.02},
      {"s":3,"t":77.3,"p":3.08},{"s":3,"t":69,"p":2.6},{"s":3,"t":58.7,"p":2.0},{"s":3,"t":55,"p":1.64},{"s":3,"t":50.8,"p":1.21},{"s":3,"t":46.8,"p":0.73},{"s":3,"t":45.5,"p":0.25},{"s":3,"t":45.5,"p":-0.6},{"s":3,"t":47.3,"p":-1.08},{"s":3,"t":51.1,"p":-1.56},{"s":3,"t":55.5,"p":-2.05},{"s":3,"t":62.5,"p":-2.53},{"s":3,"t":71,"p":-3.1},
      {"s":4,"t":24,"p":3.08},{"s":4,"t":23.4,"p":2.73},{"s":4,"t":21.9,"p":2.24},{"s":4,"t":20.8,"p":1.52},{"s":4,"t":20.4,"p":0},{"s":4,"t":20.6,"p":-0.66},{"s":4,"t":21.5,"p":-1.38},{"s":4,"t":23,"p":-1.8},{"s":4,"t":24.6,"p":-2.41},{"s":4,"t":27.4,"p":-3.07},
      {"s":5,"t":48.4,"p":3.08},{"s":5,"t":45.3,"p":2.65},{"s":5,"t":41.5,"p":2.17},{"s":5,"t":39.2,"p":1.75},{"s":5,"t":36.7,"p":1.26},{"s":5,"t":36,"p":0.66},{"s":5,"t":36.3,"p":-0.07},{"s":5,"t":37.9,"p":-0.55},{"s":5,"t":40.5,"p":-1.15},{"s":5,"t":44.6,"p":-1.58},{"s":5,"t":47.8,"p":-2.06},{"s":5,"t":52.6,"p":-2.48},{"s":5,"t":58.3,"p":-2.85},{"s":5,"t":63.5,"p":-3.06},
      {"s":6,"t":40.8,"p":3.05},{"s":6,"t":37.5,"p":2.59},{"s":6,"t":33.7,"p":2.05},{"s":6,"t":30.7,"p":1.44},{"s":6,"t":29.3,"p":0.66},{"s":6,"t":28.9,"p":0.17},{"s":6,"t":29.9,"p":-0.37},{"s":6,"t":32.2,"p":-0.97},{"s":6,"t":36,"p":-1.58},{"s":6,"t":40.2,"p":-2.18},{"s":6,"t":44.6,"p":-2.66},{"s":6,"t":50.4,"p":-3.06},
      {"s":7,"t":52,"p":3.05},{"s":7,"t":47.3,"p":2.59},{"s":7,"t":40.7,"p":1.99},{"s":7,"t":36,"p":1.44},{"s":7,"t":34.1,"p":0.9},{"s":7,"t":33.7,"p":0.05},{"s":7,"t":34.5,"p":-0.55},{"s":7,"t":36.9,"p":-1.15},{"s":7,"t":40.3,"p":-1.64},{"s":7,"t":45.8,"p":-2.12},{"s":7,"t":52,"p":-2.66},{"s":7,"t":58.1,"p":-3.06},
      {"s":8,"t":31.2,"p":3.05},{"s":8,"t":27.4,"p":2.59},{"s":8,"t":21.6,"p":2.05},{"s":8,"t":17.4,"p":1.44},{"s":8,"t":15.1,"p":0.84},{"s":8,"t":14.4,"p":0},{"s":8,"t":15.5,"p":-0.61},{"s":8,"t":18.3,"p":-1.15},{"s":8,"t":22.1,"p":-1.64},{"s":8,"t":27.8,"p":-2.18},{"s":8,"t":33.5,"p":-2.66},{"s":8,"t":39.7,"p":-3.06},
      {"s":9,"t":21.4,"p":3.03},{"s":9,"t":19.5,"p":2.58},{"s":9,"t":17.2,"p":1.62},{"s":9,"t":16.6,"p":0.46},{"s":9,"t":17.2,"p":-0.23},{"s":9,"t":19.1,"p":-0.77},{"s":9,"t":22,"p":-1.39},{"s":9,"t":23.9,"p":-1.87},{"s":9,"t":27.7,"p":-2.42},{"s":9,"t":32.5,"p":-3.0},
      {"s":10,"t":36,"p":3.06},{"s":10,"t":32.2,"p":2.65},{"s":10,"t":26,"p":2.1},{"s":10,"t":22.2,"p":1.55},{"s":10,"t":19.2,"p":1.0},{"s":10,"t":17.8,"p":0.46},{"s":10,"t":18,"p":-0.64},{"s":10,"t":20.3,"p":-1.32},{"s":10,"t":23.6,"p":-1.87},{"s":10,"t":28.9,"p":-2.42},{"s":10,"t":36,"p":-3.03},
      {"s":11,"t":53.6,"p":3.05},{"s":11,"t":48.7,"p":2.58},{"s":11,"t":42.6,"p":1.97},{"s":11,"t":37.5,"p":1.35},{"s":11,"t":34.1,"p":0.66},{"s":11,"t":33.7,"p":-0.23},{"s":11,"t":36,"p":-0.91},{"s":11,"t":39.8,"p":-1.6},{"s":11,"t":45.5,"p":-2.21},{"s":11,"t":51.7,"p":-2.69},{"s":11,"t":59.7,"p":-3.07},
      {"s":12,"t":45.4,"p":3.05},{"s":12,"t":41.6,"p":2.58},{"s":12,"t":36.3,"p":1.97},{"s":12,"t":32.5,"p":1.35},{"s":12,"t":28.7,"p":0.66},{"s":12,"t":27.4,"p":-0.23},{"s":12,"t":28.2,"p":-0.91},{"s":12,"t":29.7,"p":-1.6},{"s":12,"t":32.5,"p":-2.21},{"s":12,"t":35,"p":-2.69},{"s":12,"t":37.8,"p":-3.07}
    ]
  },
  "vconcat": [
    {"bounds": "flush", "spacing": 185, "hconcat": [
      {"width":434,"height":477,"encoding":{"x":{"field":"t","type":"quantitative","scale":{"domain":[0,100],"nice":false},"axis":{"values":[0,50,100],"title":"sub # 1"}},"y":{"field":"p","type":"quantitative","scale":{"domain":[-3.19,3.1],"nice":false,"zero":false},"axis":{"values":[-2,0,2],"title":"phase(radian)"}}},"layer":[{"data":{"name":"pts"},"transform":[{"filter":"datum.s==1"}],"mark":{"type":"point","shape":"M-1,0L1,0M0,-1L0,1M-0.7,-0.7L0.7,0.7M-0.7,0.7L0.7,-0.7","size":1700,"filled":false,"color":"#ff0000","strokeWidth":2,"opacity":1,"clip":false}},{"data":{"name":"crv"},"transform":[{"filter":"datum.s==1"}],"mark":{"type":"line","color":"#000000","strokeWidth":12,"interpolate":"basis"},"encoding":{"order":{"field":"p","type":"quantitative"}}}]},
      {"width":434,"height":477,"encoding":{"x":{"field":"t","type":"quantitative","scale":{"domain":[0,100],"nice":false},"axis":{"values":[0,50,100],"title":"sub # 2"}},"y":{"field":"p","type":"quantitative","scale":{"domain":[-3.19,3.1],"nice":false,"zero":false},"axis":{"values":[-2,0,2],"title":null}}},"layer":[{"data":{"name":"pts"},"transform":[{"filter":"datum.s==2"}],"mark":{"type":"point","shape":"M-1,0L1,0M0,-1L0,1M-0.7,-0.7L0.7,0.7M-0.7,0.7L0.7,-0.7","size":1700,"filled":false,"color":"#ff0000","strokeWidth":2,"opacity":1,"clip":false}},{"data":{"name":"crv"},"transform":[{"filter":"datum.s==2"}],"mark":{"type":"line","color":"#000000","strokeWidth":12,"interpolate":"basis"},"encoding":{"order":{"field":"p","type":"quantitative"}}}]},
      {"width":434,"height":477,"encoding":{"x":{"field":"t","type":"quantitative","scale":{"domain":[0,100],"nice":false},"axis":{"values":[0,50,100],"title":"sub # 3"}},"y":{"field":"p","type":"quantitative","scale":{"domain":[-3.19,3.1],"nice":false,"zero":false},"axis":{"values":[-2,0,2],"title":null}}},"layer":[{"data":{"name":"pts"},"transform":[{"filter":"datum.s==3"}],"mark":{"type":"point","shape":"M-1,0L1,0M0,-1L0,1M-0.7,-0.7L0.7,0.7M-0.7,0.7L0.7,-0.7","size":1700,"filled":false,"color":"#ff0000","strokeWidth":2,"opacity":1,"clip":false}},{"data":{"name":"crv"},"transform":[{"filter":"datum.s==3"}],"mark":{"type":"line","color":"#000000","strokeWidth":12,"interpolate":"basis"},"encoding":{"order":{"field":"p","type":"quantitative"}}}]},
      {"width":434,"height":477,"encoding":{"x":{"field":"t","type":"quantitative","scale":{"domain":[0,100],"nice":false},"axis":{"values":[0,50,100],"title":"sub # 4"}},"y":{"field":"p","type":"quantitative","scale":{"domain":[-3.19,3.1],"nice":false,"zero":false},"axis":{"values":[-2,0,2],"title":null}}},"layer":[{"data":{"name":"pts"},"transform":[{"filter":"datum.s==4"}],"mark":{"type":"point","shape":"M-1,0L1,0M0,-1L0,1M-0.7,-0.7L0.7,0.7M-0.7,0.7L0.7,-0.7","size":1700,"filled":false,"color":"#ff0000","strokeWidth":2,"opacity":1,"clip":false}},{"data":{"name":"crv"},"transform":[{"filter":"datum.s==4"}],"mark":{"type":"line","color":"#000000","strokeWidth":12,"interpolate":"basis"},"encoding":{"order":{"field":"p","type":"quantitative"}}}]}
    ]},
    {"bounds": "flush", "spacing": 185, "hconcat": [
      {"width":434,"height":477,"encoding":{"x":{"field":"t","type":"quantitative","scale":{"domain":[0,100],"nice":false},"axis":{"values":[0,50,100],"title":"sub # 5"}},"y":{"field":"p","type":"quantitative","scale":{"domain":[-3.19,3.1],"nice":false,"zero":false},"axis":{"values":[-2,0,2],"title":"phase(radian)"}}},"layer":[{"data":{"name":"pts"},"transform":[{"filter":"datum.s==5"}],"mark":{"type":"point","shape":"M-1,0L1,0M0,-1L0,1M-0.7,-0.7L0.7,0.7M-0.7,0.7L0.7,-0.7","size":1700,"filled":false,"color":"#ff0000","strokeWidth":2,"opacity":1,"clip":false}},{"data":{"name":"crv"},"transform":[{"filter":"datum.s==5"}],"mark":{"type":"line","color":"#000000","strokeWidth":12,"interpolate":"basis"},"encoding":{"order":{"field":"p","type":"quantitative"}}}]},
      {"width":434,"height":477,"encoding":{"x":{"field":"t","type":"quantitative","scale":{"domain":[0,100],"nice":false},"axis":{"values":[0,50,100],"title":"sub # 6"}},"y":{"field":"p","type":"quantitative","scale":{"domain":[-3.19,3.1],"nice":false,"zero":false},"axis":{"values":[-2,0,2],"title":null}}},"layer":[{"data":{"name":"pts"},"transform":[{"filter":"datum.s==6"}],"mark":{"type":"point","shape":"M-1,0L1,0M0,-1L0,1M-0.7,-0.7L0.7,0.7M-0.7,0.7L0.7,-0.7","size":1700,"filled":false,"color":"#ff0000","strokeWidth":2,"opacity":1,"clip":false}},{"data":{"name":"crv"},"transform":[{"filter":"datum.s==6"}],"mark":{"type":"line","color":"#000000","strokeWidth":12,"interpolate":"basis"},"encoding":{"order":{"field":"p","type":"quantitative"}}}]},
      {"width":434,"height":477,"encoding":{"x":{"field":"t","type":"quantitative","scale":{"domain":[0,100],"nice":false},"axis":{"values":[0,50,100],"title":"sub # 7"}},"y":{"field":"p","type":"quantitative","scale":{"domain":[-3.19,3.1],"nice":false,"zero":false},"axis":{"values":[-2,0,2],"title":null}}},"layer":[{"data":{"name":"pts"},"transform":[{"filter":"datum.s==7"}],"mark":{"type":"point","shape":"M-1,0L1,0M0,-1L0,1M-0.7,-0.7L0.7,0.7M-0.7,0.7L0.7,-0.7","size":1700,"filled":false,"color":"#ff0000","strokeWidth":2,"opacity":1,"clip":false}},{"data":{"name":"crv"},"transform":[{"filter":"datum.s==7"}],"mark":{"type":"line","color":"#000000","strokeWidth":12,"interpolate":"basis"},"encoding":{"order":{"field":"p","type":"quantitative"}}}]},
      {"width":434,"height":477,"encoding":{"x":{"field":"t","type":"quantitative","scale":{"domain":[0,100],"nice":false},"axis":{"values":[0,50,100],"title":"sub # 8"}},"y":{"field":"p","type":"quantitative","scale":{"domain":[-3.19,3.1],"nice":false,"zero":false},"axis":{"values":[-2,0,2],"title":null}}},"layer":[{"data":{"name":"pts"},"transform":[{"filter":"datum.s==8"}],"mark":{"type":"point","shape":"M-1,0L1,0M0,-1L0,1M-0.7,-0.7L0.7,0.7M-0.7,0.7L0.7,-0.7","size":1700,"filled":false,"color":"#ff0000","strokeWidth":2,"opacity":1,"clip":false}},{"data":{"name":"crv"},"transform":[{"filter":"datum.s==8"}],"mark":{"type":"line","color":"#000000","strokeWidth":12,"interpolate":"basis"},"encoding":{"order":{"field":"p","type":"quantitative"}}}]}
    ]},
    {"bounds": "flush", "spacing": 185, "hconcat": [
      {"width":434,"height":477,"encoding":{"x":{"field":"t","type":"quantitative","scale":{"domain":[0,100],"nice":false},"axis":{"values":[0,50,100],"title":["sub # 9","Time split(ms)"]}},"y":{"field":"p","type":"quantitative","scale":{"domain":[-3.19,3.1],"nice":false,"zero":false},"axis":{"values":[-2,0,2],"title":"phase(radian)"}}},"layer":[{"data":{"name":"pts"},"transform":[{"filter":"datum.s==9"}],"mark":{"type":"point","shape":"M-1,0L1,0M0,-1L0,1M-0.7,-0.7L0.7,0.7M-0.7,0.7L0.7,-0.7","size":1700,"filled":false,"color":"#ff0000","strokeWidth":2,"opacity":1,"clip":false}},{"data":{"name":"crv"},"transform":[{"filter":"datum.s==9"}],"mark":{"type":"line","color":"#000000","strokeWidth":12,"interpolate":"basis"},"encoding":{"order":{"field":"p","type":"quantitative"}}}]},
      {"width":434,"height":477,"encoding":{"x":{"field":"t","type":"quantitative","scale":{"domain":[0,100],"nice":false},"axis":{"values":[0,50,100],"title":["sub # 10","Time split(ms)"]}},"y":{"field":"p","type":"quantitative","scale":{"domain":[-3.19,3.1],"nice":false,"zero":false},"axis":{"values":[-2,0,2],"title":null}}},"layer":[{"data":{"name":"pts"},"transform":[{"filter":"datum.s==10"}],"mark":{"type":"point","shape":"M-1,0L1,0M0,-1L0,1M-0.7,-0.7L0.7,0.7M-0.7,0.7L0.7,-0.7","size":1700,"filled":false,"color":"#ff0000","strokeWidth":2,"opacity":1,"clip":false}},{"data":{"name":"crv"},"transform":[{"filter":"datum.s==10"}],"mark":{"type":"line","color":"#000000","strokeWidth":12,"interpolate":"basis"},"encoding":{"order":{"field":"p","type":"quantitative"}}}]},
      {"width":434,"height":477,"encoding":{"x":{"field":"t","type":"quantitative","scale":{"domain":[0,100],"nice":false},"axis":{"values":[0,50,100],"title":["sub # 11","Time split(ms)"]}},"y":{"field":"p","type":"quantitative","scale":{"domain":[-3.19,3.1],"nice":false,"zero":false},"axis":{"values":[-2,0,2],"title":null}}},"layer":[{"data":{"name":"pts"},"transform":[{"filter":"datum.s==11"}],"mark":{"type":"point","shape":"M-1,0L1,0M0,-1L0,1M-0.7,-0.7L0.7,0.7M-0.7,0.7L0.7,-0.7","size":1700,"filled":false,"color":"#ff0000","strokeWidth":2,"opacity":1,"clip":false}},{"data":{"name":"crv"},"transform":[{"filter":"datum.s==11"}],"mark":{"type":"line","color":"#000000","strokeWidth":12,"interpolate":"basis"},"encoding":{"order":{"field":"p","type":"quantitative"}}}]},
      {"width":434,"height":477,"encoding":{"x":{"field":"t","type":"quantitative","scale":{"domain":[0,100],"nice":false},"axis":{"values":[0,50,100],"title":["sub # 12","Time split(ms)"]}},"y":{"field":"p","type":"quantitative","scale":{"domain":[-3.19,3.1],"nice":false,"zero":false},"axis":{"values":[-2,0,2],"title":null}}},"layer":[{"data":{"name":"pts"},"transform":[{"filter":"datum.s==12"}],"mark":{"type":"point","shape":"M-1,0L1,0M0,-1L0,1M-0.7,-0.7L0.7,0.7M-0.7,0.7L0.7,-0.7","size":1700,"filled":false,"color":"#ff0000","strokeWidth":2,"opacity":1,"clip":false}},{"data":{"name":"crv"},"transform":[{"filter":"datum.s==12"}],"mark":{"type":"line","color":"#000000","strokeWidth":12,"interpolate":"basis"},"encoding":{"order":{"field":"p","type":"quantitative"}}}]}
    ]}
  ]
}
